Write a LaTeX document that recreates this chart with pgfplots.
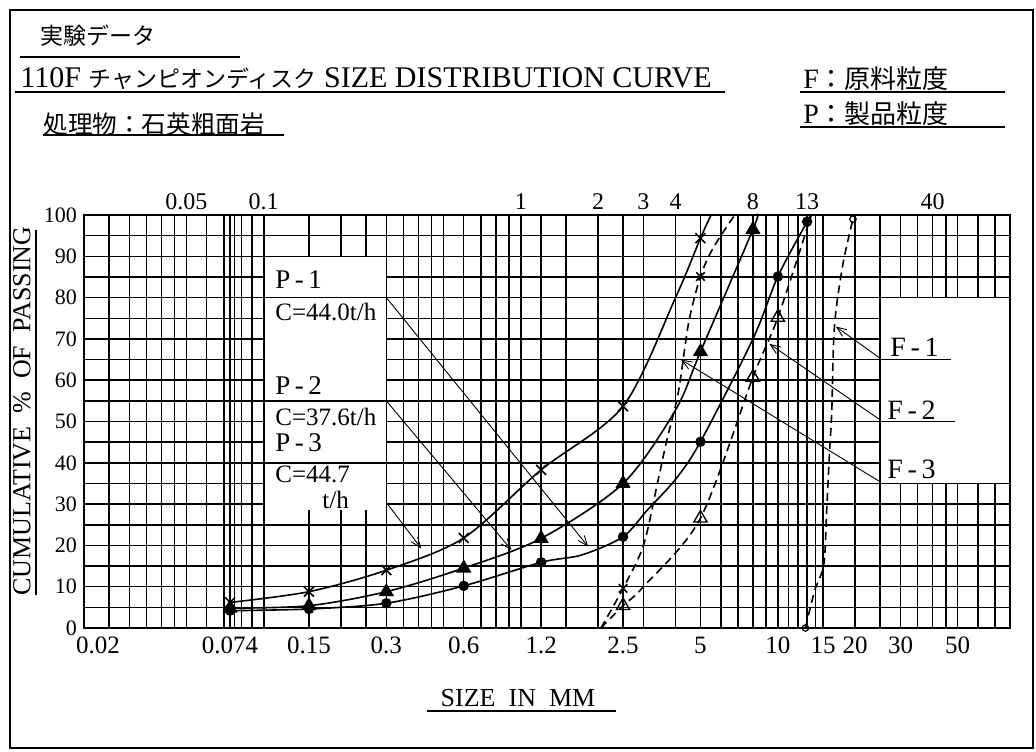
\documentclass[border=0pt]{standalone}
\usepackage{pgfplots}
\pgfplotsset{compat=1.18}
\usepackage{fontspec}
\setmainfont{Liberation Serif}
\newfontfamily\jp{Noto Sans CJK JP}
\usetikzlibrary{arrows.meta}

\tikzset{
  gridl/.style={line width=0.75pt, black},
  pcurve/.style={line width=0.8pt, black, smooth},
  fcurve/.style={line width=0.8pt, black, smooth, dash pattern=on 4pt off 2.5pt},
  lead/.style={line width=0.45pt, black, -{Straight Barb[length=5pt,width=4pt]}},
}

\begin{document}
\begin{tikzpicture}
% pixel coordinate frame of the reference (1036 x 751)
\begin{scope}[x=0.5pt,y=-0.5pt,shift={(-42pt,314pt)}]
  \path[use as bounding box] (0,0) rectangle (1036,751);
\end{scope}

\begin{axis}[
  at={(0,0)}, anchor=south west, scale only axis,
  width=463pt, height=206.5pt,
  xmode=log, xmin=0.02, xmax=80, ymin=0, ymax=100,
  clip=false,
  axis line style={line width=1.2pt},
  major tick length=0pt, minor tick length=0pt,
  xtick={0.074,0.15,0.3,0.6,1.2,2.5,5,10,15,20,30,50},
  xticklabels={0.074,0.15,0.3,0.6,1.2,2.5,5,10,15,20,30,50},
  extra x ticks={0.02}, extra x tick labels={0.02},
  extra x tick style={xticklabel style={xshift=7pt}},
  ytick={0,10,20,30,40,50,60,70,80,90,100},
  yticklabels={0,10,20,30,40,50,60,70,80,90,100},
  xticklabel style={font=\fontsize{12.5}{13}\selectfont, yshift=-1pt},
  yticklabel style={font=\fontsize{11}{12}\selectfont},
]
% ---- grid (chart paper) ----
\pgfplotsinvokeforeach{0.025,0.03,0.035,0.04,0.045,0.05,0.06,0.07,0.074,0.077,0.082,0.09,0.3,0.35,0.4,0.45,0.5,0.6,0.7,0.8,0.9,1,1.2,1.5,2,2.5,3,4,5,6,7,8,9,10,11,12,13,14,15,20,25}{
  \draw[gridl] (axis cs:#1,0) -- (axis cs:#1,100);
}
\draw[line width=1.1pt] (axis cs:0.1,0) -- (axis cs:0.1,100);
\pgfplotsinvokeforeach{0.15,0.2,0.25}{
  \draw[gridl] (axis cs:#1,0) -- (axis cs:#1,28.5) (axis cs:#1,90) -- (axis cs:#1,100);
}
\pgfplotsinvokeforeach{30,35,40,45,50,60,70}{
  \draw[gridl] (axis cs:#1,0) -- (axis cs:#1,35) (axis cs:#1,80) -- (axis cs:#1,100);
}
\pgfplotsinvokeforeach{5,10,15,20,25,80,90,95}{
  \draw[gridl] (axis cs:0.02,#1) -- (axis cs:80,#1);
}
\pgfplotsinvokeforeach{30,35,85}{
  \draw[gridl] (axis cs:0.02,#1) -- (axis cs:0.1,#1) (axis cs:0.3,#1) -- (axis cs:80,#1);
}
\pgfplotsinvokeforeach{40,55}{
  \draw[gridl] (axis cs:0.02,#1) -- (axis cs:25,#1);
}
\pgfplotsinvokeforeach{45,50,60,65,70,75}{
  \draw[gridl] (axis cs:0.02,#1) -- (axis cs:0.1,#1) (axis cs:0.3,#1) -- (axis cs:25,#1);
}
\draw[gridl] (axis cs:25,65) -- (axis cs:47,65);
\draw[gridl] (axis cs:25,50) -- (axis cs:49,50);

% ---- product curves (solid) ----
\addplot[pcurve, mark=x, mark size=3.5pt, mark indices={1,2,3,4,5,6,8}] coordinates {
  (0.074,6.2) (0.15,8.8) (0.3,14) (0.6,21.8) (1.2,38.3) (2.5,53.7) (4,80) (5,94.4) (5.5,100)};
\addplot[pcurve, mark=triangle*, mark size=3.6pt, mark indices={1,2,3,4,5,6,8,9}] coordinates {
  (0.074,4.8) (0.15,5.4) (0.3,8.8) (0.6,14.5) (1.2,21.7) (2.5,35) (4,52.8) (5,66.9) (8,96.5) (8.3,100)};
\addplot[pcurve, mark=*, mark size=2.2pt, mark indices={1,2,3,4,5,7,10,12,13}] coordinates {
  (0.074,4.2) (0.15,4.6) (0.3,6) (0.6,10.2) (1.2,15.9) (1.73,17.7) (2.5,22.1) (3.1,28.5) (4,36) (5,45.1) (8,70) (10,85.1) (13,98.4) (13.5,100)};

% ---- feed curves (dashed) ----
\addplot[fcurve, mark=x, mark size=3pt, mark options={solid}, mark indices={2,8}] coordinates {
  (2.05,0) (2.5,9.6) (3,20) (3.4,35) (3.7,45.5) (4.1,57) (4.5,74) (5,85.1) (5.6,92) (6.8,100)};
\addplot[fcurve, mark=triangle, mark size=3.8pt, mark options={solid, line width=0.7pt}, mark indices={2,4,5,6}] coordinates {
  (2.05,0) (2.5,5.4) (3,10) (5,26.6) (8,60.7) (10,75.2) (13.5,100)};
\addplot[fcurve, mark=o, mark size=1.6pt, mark options={solid, line width=0.6pt}, mark indices={1,9}] coordinates {
  (12.8,0) (13.9,9) (15.1,15.5) (15.5,29) (15.9,43) (16.2,52) (16.6,73) (17.9,88) (19.6,99)};

% drop line at 0.074
\draw[line width=1.1pt] (axis cs:0.074,0) -- (axis cs:0.074,4.2);

% ---- leader arrows ----
\draw[lead] (axis cs:0.3,80) -- (axis cs:1.83,19.7);
\draw[lead] (axis cs:0.3,55) -- (axis cs:0.92,18.9);
\draw[lead] (axis cs:0.3,30.4) -- (axis cs:0.41,19.3);
\draw[lead] (axis cs:25,65.3) -- (axis cs:16.8,73);
\draw[lead] (axis cs:25,50.4) -- (axis cs:9.27,68.8);
\draw[lead] (axis cs:25,35.4) -- (axis cs:4.2,65);

% ---- top scale labels ----
\pgfplotsinvokeforeach{0.05,0.1,1,2,3,4,8,13,40}{
  \node[anchor=south, inner sep=0pt, font=\fontsize{12}{13}\selectfont] at (axis cs:#1,100) [yshift=2.5pt] {#1};
}
\end{axis}

% ---- texts in reference pixel coordinates ----
\begin{scope}[x=0.5pt,y=-0.5pt,shift={(-42pt,314pt)}]
  \draw[line width=1pt] (10,10) rectangle (1033,748);
  % titles
  \node[anchor=west, inner sep=0pt] at (40,36) {\jp\fontsize{11.5}{12}\selectfont 実験データ};
  \draw[line width=0.8pt] (20,57) -- (240,57);
  \node[anchor=west, inner sep=0pt] at (20,79) {\fontsize{15}{16}\selectfont 110F {\jp\fontsize{11.5}{12}\selectfont チャンピオンディスク} SIZE DISTRIBUTION CURVE};
  \draw[line width=0.8pt] (15,92) -- (725,92);
  \node[anchor=west, inner sep=0pt] at (803,79) {\fontsize{14}{15}\selectfont F{\jp\fontsize{13}{14}\selectfont ：原料粒度}};
  \draw[line width=0.8pt] (800,92) -- (1005,92);
  \node[anchor=west, inner sep=0pt] at (803,114) {\fontsize{14}{15}\selectfont P{\jp\fontsize{13}{14}\selectfont ：製品粒度}};
  \draw[line width=0.8pt] (800,127) -- (1005,127);
  \node[anchor=west, inner sep=0pt] at (43,124) {\jp\fontsize{12.3}{13}\selectfont 処理物：石英粗面岩};
  \draw[line width=0.8pt] (43,135) -- (284,135);
  % axis titles
  \node[rotate=90, inner sep=0pt] at (22,411) {\fontsize{13}{14}\selectfont CUMULATIVE\ \ \%\ \ OF\ \ PASSING};
  \draw[line width=0.8pt] (36,230) -- (36,595);
  \node[inner sep=0pt] at (518,698) {\fontsize{13}{14}\selectfont SIZE\ \ IN\ \ MM};
  \draw[line width=0.8pt] (427,711) -- (616,711);
  % box labels
  \node[anchor=west, inner sep=0pt] at (275,280) {\fontsize{13.5}{14}\selectfont P\,-\,1};
  \node[anchor=west, inner sep=0pt] at (275,312) {\fontsize{12.5}{13}\selectfont C=44.0t/h};
  \node[anchor=west, inner sep=0pt] at (275,386) {\fontsize{13.5}{14}\selectfont P\,-\,2};
  \node[anchor=west, inner sep=0pt] at (275,417) {\fontsize{12.5}{13}\selectfont C=37.6t/h};
  \node[anchor=west, inner sep=0pt] at (275,443) {\fontsize{13.5}{14}\selectfont P\,-\,3};
  \node[anchor=west, inner sep=0pt] at (275,474) {\fontsize{12.5}{13}\selectfont C=44.7};
  \node[anchor=west, inner sep=0pt] at (322,500) {\fontsize{12.5}{13}\selectfont t/h};
  \node[anchor=west, inner sep=0pt] at (890,347) {\fontsize{14}{15}\selectfont F\,-\,1};
  \node[anchor=west, inner sep=0pt] at (887,410) {\fontsize{14}{15}\selectfont F\,-\,2};
  \node[anchor=west, inner sep=0pt] at (887,469) {\fontsize{14}{15}\selectfont F\,-\,3};
\end{scope}
\end{tikzpicture}
\end{document}
